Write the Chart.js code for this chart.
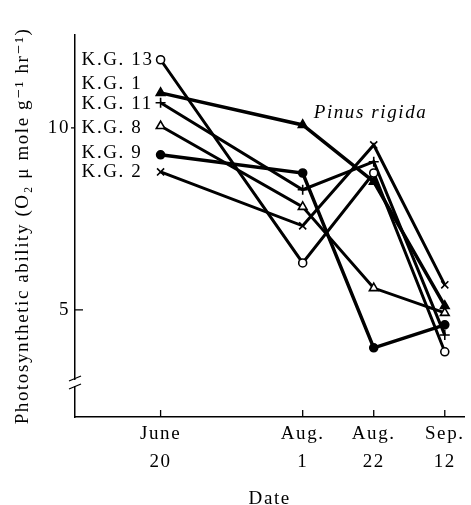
<!DOCTYPE html>
<html>
<head>
<meta charset="utf-8">
<script src="https://cdn.jsdelivr.net/npm/chart.js@4"></script>
<style>
  html, body { margin: 0; padding: 0; background: #fff; }
  #wrap { width: 471px; height: 505px; }
</style>
</head>
<body>
<div id="wrap"><canvas id="chart"></canvas></div>
<script>
// days after June 20
const dateDays = [0, 42, 63, 84];
const dateLabels = [['June', '20'], ['Aug.', '1'], ['Aug.', '22'], ['Sep.', '12']];
const yTicks = [5, 10];

const seriesNames = ['K.G. 13', 'K.G. 1', 'K.G. 11', 'K.G. 8', 'K.G. 9', 'K.G. 2'];
const kg13 = [11.87, 6.29, 8.76, 3.85];
const kg1 = [10.96, 10.08, 8.52, 5.11];
const kg11 = [10.69, 8.30, 9.07, 4.31];
const kg8 = [10.05, 7.83, 5.60, 4.92];
const kg9 = [9.26, 8.76, 3.96, 4.59];
const kg2 = [8.79, 7.31, 9.53, 5.69];

const serif = "'Liberation Serif', 'DejaVu Serif', serif";

function pts(vals) {
    return vals.map((v, i) => ({ x: dateDays[i], y: v }));
}

function makeSet(label, vals, style, filled, width, radius) {
    return {
        label: label,
        data: pts(vals),
        borderColor: '#000',
        backgroundColor: filled ? '#000' : '#fff',
        pointBorderColor: '#000',
        pointBackgroundColor: filled ? '#000' : '#fff',
        pointStyle: style,
        pointRadius: radius,
        pointBorderWidth: 1.6,
        borderWidth: width,
        tension: 0,
        fill: false
    };
}

const datasets = [
    makeSet(seriesNames[0], kg13, 'circle', false, 3, 4),
    makeSet(seriesNames[1], kg1, 'triangle', true, 3.5, 5),
    makeSet(seriesNames[2], kg11, 'cross', false, 3, 5),
    makeSet(seriesNames[3], kg8, 'triangle', false, 3, 5),
    makeSet(seriesNames[4], kg9, 'circle', true, 3.5, 4),
    makeSet(seriesNames[5], kg2, 'crossRot', false, 3, 5)
];

// label offsets (px) from the first point, to keep names from overlapping
const labelShift = [0, -9, 1, 2, -2, 0];

const spacing = {
    id: 'spacing',
    beforeLayout(chart) { chart.ctx.letterSpacing = '1.6px'; },
    beforeDraw(chart) { chart.ctx.letterSpacing = '1.6px'; }
};

const decorations = {
    id: 'decorations',
    afterDraw(chart) {
        const ctx = chart.ctx;
        const xs = chart.scales.x, ys = chart.scales.y;
        const area = chart.chartArea;
        ctx.save();
        ctx.strokeStyle = '#000';
        ctx.lineWidth = 1.3;
        // x ticks pointing inward
        dateDays.forEach(d => {
            const px = xs.getPixelForValue(d);
            ctx.beginPath();
            ctx.moveTo(px, area.bottom);
            ctx.lineTo(px, area.bottom - 7);
            ctx.stroke();
        });
        // y ticks
        ctx.beginPath();
        ctx.moveTo(area.left, ys.getPixelForValue(5));
        ctx.lineTo(area.left + 8, ys.getPixelForValue(5));
        ctx.moveTo(area.left - 4, ys.getPixelForValue(10));
        ctx.lineTo(area.left, ys.getPixelForValue(10));
        ctx.stroke();
        // axis break
        const by = area.bottom - 34;
        ctx.fillStyle = '#fff';
        ctx.fillRect(area.left - 2, by - 3, 4, 6);
        ctx.beginPath();
        ctx.moveTo(area.left - 6, by - 2);
        ctx.lineTo(area.left + 6, by - 7);
        ctx.moveTo(area.left - 6, by + 6);
        ctx.lineTo(area.left + 6, by + 1);
        ctx.stroke();

        // series names at the first point
        ctx.letterSpacing = '1.6px';
        ctx.fillStyle = '#000';
        ctx.font = '19px ' + serif;
        ctx.textAlign = 'left';
        ctx.textBaseline = 'middle';
        chart.data.datasets.forEach((ds, i) => {
            const p = chart.getDatasetMeta(i).data[0];
            ctx.fillText(ds.label, p.x - 79, p.y + labelShift[i]);
        });
        // species name
        ctx.font = 'italic 19px ' + serif;
        const p1 = chart.getDatasetMeta(1).data[1];
        ctx.fillText('Pinus rigida', p1.x + 11, p1.y - 12);
        ctx.restore();
    }
};

new Chart(document.getElementById('chart'), {
    type: 'line',
    data: { datasets: datasets },
    options: {
        responsive: true,
        maintainAspectRatio: false,
        animation: false,
        devicePixelRatio: 1,
        layout: { padding: { top: 35, right: 4, left: 0, bottom: 0 } },
        plugins: {
            legend: { display: false },
            tooltip: { enabled: false }
        },
        scales: {
            x: {
                type: 'linear',
                min: -25.3,
                max: 89.8,
                afterBuildTicks: (s) => { s.ticks = dateDays.map(v => ({ value: v })); },
                afterFit: (s) => { s.height = 88; },
                grid: { display: false, drawTicks: false },
                border: { display: true, color: '#000', width: 1.5 },
                ticks: {
                    color: '#000',
                    padding: 3,
                    maxRotation: 0,
                    autoSkip: false,
                    font: { family: serif, size: 19, lineHeight: 1.47 },
                    callback: (v) => dateLabels[dateDays.indexOf(v)]
                },
                title: {
                    display: true,
                    text: 'Date',
                    color: '#000',
                    padding: { top: 0, bottom: -4 },
                    font: { family: serif, size: 19, lineHeight: 1 }
                }
            },
            y: {
                type: 'linear',
                min: 2.06,
                max: 12.55,
                afterBuildTicks: (s) => { s.ticks = yTicks.map(v => ({ value: v })); },
                afterFit: (s) => { s.width = 75; },
                grid: { display: false, drawTicks: false },
                border: { display: true, color: '#000', width: 1.5 },
                ticks: {
                    color: '#000',
                    padding: 5,
                    font: { family: serif, size: 19 }
                },
                title: {
                    display: true,
                    text: 'Photosynthetic ability (O\u2082 \u03bc mole g\u207b\u00b9 hr\u207b\u00b9)',
                    color: '#000',
                    padding: { top: 12, bottom: 0 },
                    font: { family: serif, size: 19 }
                }
            }
        }
    },
    plugins: [spacing, decorations]
});
</script>
</body>
</html>
